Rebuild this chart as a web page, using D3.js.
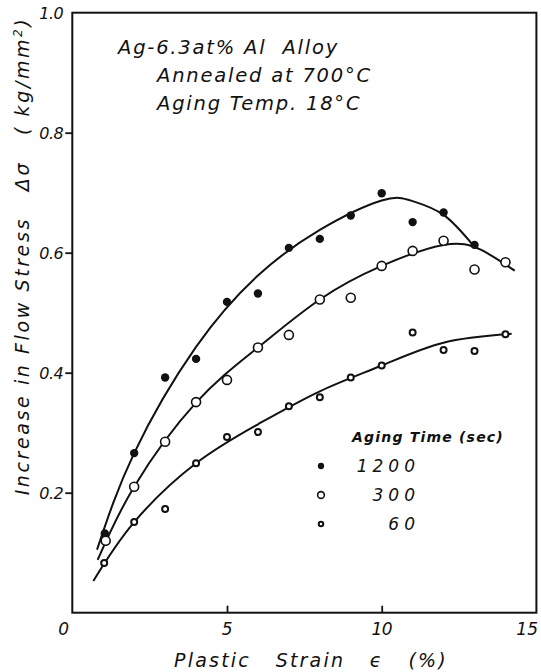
<!DOCTYPE html>
<html>
<head>
<meta charset="utf-8">
<script src="https://cdn.jsdelivr.net/npm/d3@7/dist/d3.min.js"></script>
<style>
  html, body { margin: 0; padding: 0; background: #fff; }
  svg text { font-family: "DejaVu Sans", "Liberation Sans", sans-serif; font-style: oblique; fill: #111; }
</style>
</head>
<body>
<svg id="chart" width="541" height="672"></svg>
<script>
// Measured points: [strain %, Δσ kg/mm²]
const aged1200 = [[1.05,0.132],[2,0.266],[3,0.392],[4,0.423],[5,0.518],[6,0.532],[7,0.608],[8,0.623],[9,0.662],[10,0.699],[11,0.651],[12,0.667],[13,0.613]];
const aged300  = [[1.08,0.120],[2,0.210],[3,0.285],[4,0.351],[5,0.388],[6,0.442],[7,0.463],[8,0.522],[9,0.525],[10,0.578],[11,0.603],[12,0.620],[13,0.572],[14,0.584]];
const aged60   = [[1.03,0.083],[2,0.151],[3,0.173],[4,0.249],[5,0.293],[6,0.301],[7,0.344],[8,0.359],[9,0.392],[10,0.412],[11,0.467],[12,0.438],[13,0.436],[14,0.464]];

// Hand-fitted trend curves through the data
const fit1200 = [[0.8,0.105],[2,0.266],[4,0.443],[6,0.562],[8,0.638],[10,0.687],[11,0.686],[12,0.663],[12.96,0.612]];
const fit300  = [[0.82,0.088],[2,0.21],[4,0.35],[6,0.442],[8,0.522],[10,0.578],[12,0.613],[13.2,0.605],[14.3,0.57]];
const fit60   = [[0.68,0.053],[2,0.151],[4,0.249],[6,0.314],[8,0.369],[10,0.412],[12,0.45],[14.2,0.465]];

const xTicks = [0, 5, 10, 15];
const yTicks = [0.2, 0.4, 0.6, 0.8, 1.0];
const legendTitle = "Aging Time (sec)";
const legendLabels = ["1200", "300", "60"];
const noteLines = ["Ag-6.3at% Al  Alloy", "Annealed at 700°C", "Aging Temp. 18°C"];

const svg = d3.select("#chart");
const x = d3.scaleLinear().domain([0, 15]).range([72.3, 536.4]);
const y = d3.scaleLinear().domain([0, 1]).range([612.7, 12.7]);

// Frame
svg.append("rect")
  .attr("x", x(0)).attr("y", y(1))
  .attr("width", x(15) - x(0)).attr("height", y(0) - y(1))
  .attr("fill", "none").attr("stroke", "#111").attr("stroke-width", 2);

// Y axis: outward ticks on the left
const yAxis = d3.axisLeft(y).tickValues(yTicks.filter(d => d < 1)).tickSize(7).tickFormat("");
const yg = svg.append("g").attr("transform", `translate(${x(0)},0)`).call(yAxis);
yg.select(".domain").remove();
yg.selectAll("line").attr("stroke", "#111").attr("stroke-width", 1.8);
svg.selectAll(".ylab").data(yTicks).enter().append("text")
  .attr("class", "ylab")
  .attr("x", x(0) - 9).attr("y", d => y(d) + 6)
  .attr("text-anchor", "end")
  .attr("font-size", 16).attr("letter-spacing", -0.5)
  .text(d => d.toFixed(1));

// X axis: inward ticks at 5 and 10
const xAxis = d3.axisTop(x).tickValues(xTicks.filter(d => d > 0 && d < 15)).tickSize(7).tickFormat("");
const xg = svg.append("g").attr("transform", `translate(0,${y(0)})`).call(xAxis);
xg.select(".domain").remove();
xg.selectAll("line").attr("stroke", "#111").attr("stroke-width", 1.8);
svg.selectAll(".xlab").data(xTicks).enter().append("text")
  .attr("class", "xlab")
  .attr("x", d => d === 0 ? x(0) - 9 : (d === 15 ? 538 : x(d)))
  .attr("y", 635)
  .attr("text-anchor", d => d === 15 ? "end" : "middle")
  .attr("font-size", 17).attr("letter-spacing", d => d === 15 ? 0 : -0.5)
  .text(d => d);

// Axis titles
svg.append("text")
  .attr("x", 311).attr("y", 667)
  .attr("text-anchor", "middle")
  .attr("font-size", 19).attr("letter-spacing", 2.2)
  .attr("xml:space", "preserve")
  .text("Plastic   Strain   \u03F5   (%)");

const yt = svg.append("text")
  .attr("transform", "translate(29,256) rotate(-90)")
  .attr("text-anchor", "middle")
  .attr("font-size", 19).attr("letter-spacing", 2.6)
  .attr("xml:space", "preserve");
yt.append("tspan").text("Increase in Flow Stress   \u0394\u03C3   ( kg/mm");
yt.append("tspan").attr("font-size", 12).attr("dy", -7).text("2");
yt.append("tspan").attr("dy", 7).text(")");

// Annotation
svg.selectAll(".note").data(noteLines).enter().append("text")
  .attr("class", "note")
  .attr("x", (d, i) => i === 0 ? 118 : 157)
  .attr("y", (d, i) => [54, 82, 110][i])
  .attr("font-size", 19.5).attr("letter-spacing", 1.8)
  .attr("xml:space", "preserve")
  .text(d => d);

// Curves
const line = d3.line().x(d => x(d[0])).y(d => y(d[1])).curve(d3.curveNatural);
[fit1200, fit300, fit60].forEach(f => {
  svg.append("path").datum(f).attr("d", line)
    .attr("fill", "none").attr("stroke", "#111").attr("stroke-width", 2);
});

// Marker styles per series
function drawMarkers(g, kind, scale) {
  const s = scale || 1;
  if (kind === 0) g.attr("r", 4.2 * s).attr("fill", "#111").attr("stroke", "none");
  else if (kind === 1) g.attr("r", 4.5 * s).attr("fill", "#fff").attr("stroke", "#111").attr("stroke-width", 1.6);
  else g.attr("r", 3 * s).attr("fill", "#fff").attr("stroke", "#111").attr("stroke-width", 2);
}
[aged1200, aged300, aged60].forEach((s, k) => {
  svg.append("g").selectAll("circle").data(s).enter().append("circle")
    .attr("cx", d => x(d[0])).attr("cy", d => y(d[1]))
    .call(drawMarkers, k);
});

// Legend
svg.append("text")
  .attr("x", 352).attr("y", 442)
  .attr("font-size", 14).attr("font-weight", "bold").attr("letter-spacing", 1.2)
  .text(legendTitle);
const legY = [466, 495, 524];
legendLabels.forEach((lab, k) => {
  svg.append("circle").attr("cx", 321).attr("cy", legY[k]).call(drawMarkers, k, 0.75);
  svg.append("text")
    .attr("x", 420).attr("y", legY[k] + 6)
    .attr("text-anchor", "end")
    .attr("font-size", 17).attr("letter-spacing", 5)
    .text(lab);
});
</script>
</body>
</html>
